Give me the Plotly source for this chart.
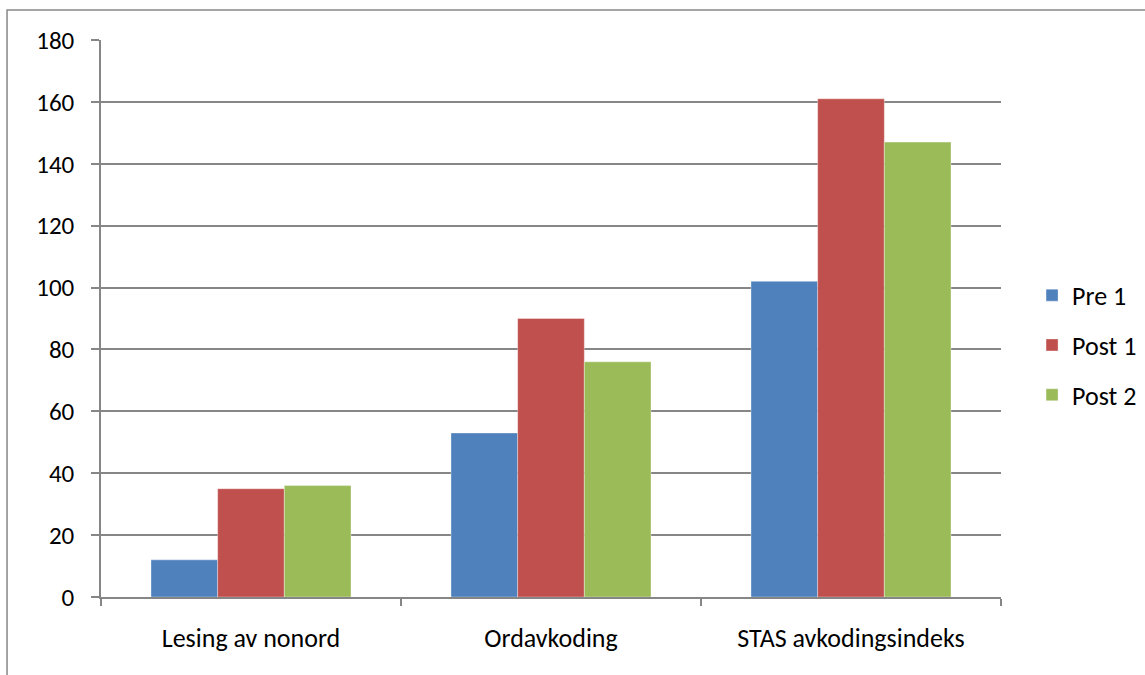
import plotly.graph_objects as go

categories = ["Lesing av nonord", "Ordavkoding", "STAS avkodingsindeks"]
series_names = ["Pre 1", "Post 1", "Post 2"]
pre_1 = [12, 53, 102]
post_1 = [35, 90, 161]
post_2 = [36, 76, 147]
y_ticks = [0, 20, 40, 60, 80, 100, 120, 140, 160, 180]

colors = ["#4F81BD", "#C0504D", "#9BBB59"]
font_family = "Carlito, Lato, 'Open Sans', sans-serif"

fig = go.Figure()
for name, vals, col in zip(series_names, [pre_1, post_1, post_2], colors):
    fig.add_trace(go.Bar(
        x=categories, y=vals, name=name, legendgroup=name,
        marker=dict(color=col, line=dict(color="rgba(255,255,255,0.35)", width=1)),
    ))

grid = "#868686"
fig.update_layout(
    width=1145, height=675,
    margin=dict(l=101, r=144, t=40, b=78, autoexpand=False),
    paper_bgcolor="white", plot_bgcolor="white",
    barmode="group", bargap=1/3, bargroupgap=0,
    font=dict(family=font_family, size=26, color="black"),
    legend=dict(x=1.0345, y=0.452, xanchor="left", yanchor="middle",
                tracegroupgap=13, font=dict(size=26), itemwidth=30),
    showlegend=True,
    shapes=[dict(type="rect", xref="paper", yref="paper",
                 x0=-0.1044, x1=2, y0=-1, y1=1.054,
                 line=dict(color="#888888", width=1.5), fillcolor="rgba(0,0,0,0)",
                 layer="below")],
)
fig.update_xaxes(
    showline=True, linecolor=grid, linewidth=1.5,
    ticks="outside", tickson="boundaries", ticklen=7, tickcolor=grid, tickwidth=1.5,
    ticklabelstandoff=17, showgrid=False, tickfont=dict(size=26),
)
fig.update_yaxes(
    range=[0, 180], tickvals=y_ticks, showline=True, linecolor=grid, linewidth=1.5,
    ticks="outside", ticklen=8, tickcolor=grid, tickwidth=1.5,
    showgrid=True, gridcolor=grid, gridwidth=1.5, zeroline=False,
    ticklabelstandoff=12, tickfont=dict(size=25),
)

fig.write_html("out.html")
